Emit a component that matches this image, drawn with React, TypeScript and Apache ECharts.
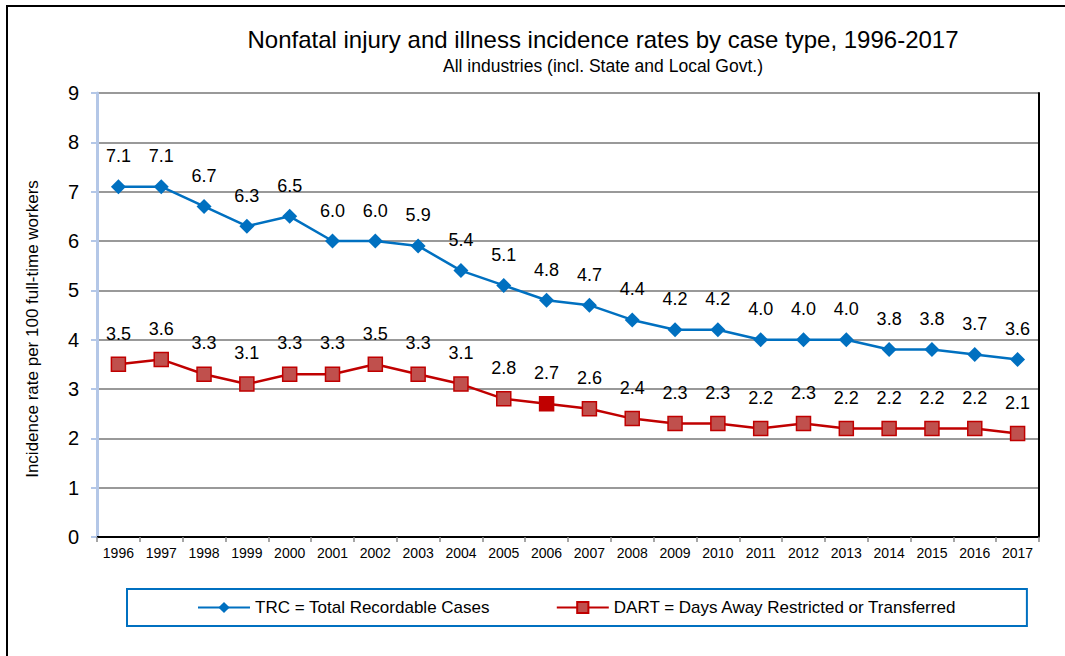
import React, { useEffect, useRef } from "react";
import * as echarts from "echarts";

const years = ["1996","1997","1998","1999","2000","2001","2002","2003","2004","2005","2006","2007","2008","2009","2010","2011","2012","2013","2014","2015","2016","2017"];
const trc = [7.1,7.1,6.7,6.3,6.5,6.0,6.0,5.9,5.4,5.1,4.8,4.7,4.4,4.2,4.2,4.0,4.0,4.0,3.8,3.8,3.7,3.6];
const dart = [3.5,3.6,3.3,3.1,3.3,3.3,3.5,3.3,3.1,2.8,2.7,2.6,2.4,2.3,2.3,2.2,2.3,2.2,2.2,2.2,2.2,2.1];
const seriesNames = ["TRC = Total Recordable Cases", "DART = Days Away Restricted or Transferred"];
const highlightedDartYear = "2006";

const FONT = "'Liberation Sans', Arial, sans-serif";
const BLUE = "#0070c0";
const RED = "#c00000";
const RED_FILL = "#c0504d";

export default function App() {
  const ref = useRef<HTMLDivElement>(null);
  useEffect(() => {
    document.body.style.margin = "0";
    const chart = echarts.init(ref.current!, null, { renderer: "svg" });
    const labelStyle = {
      show: true,
      position: "top" as const,
      distance: 14,
      fontFamily: FONT,
      fontSize: 18,
      color: "#000",
      formatter: (p: any) => Number(p.value).toFixed(1),
    };
    chart.setOption({
      animation: false,
      backgroundColor: "#fff",
      title: {
        text: "Nonfatal injury and illness incidence rates by case type, 1996-2017",
        subtext: "All industries (incl. State and Local Govt.)",
        left: 598,
        textAlign: "center",
        top: 22,
        itemGap: 6,
        textStyle: { fontFamily: FONT, fontSize: 24, fontWeight: "normal", color: "#000" },
        subtextStyle: { fontFamily: FONT, fontSize: 17.5, color: "#000" },
      },
      graphic: [
        { type: "rect", shape: { x: 7, y: 6, width: 1100, height: 700 }, style: { fill: "none", stroke: "#000", lineWidth: 2 }, silent: true },
      ],
      legend: {
        left: 127,
        top: 589,
        padding: [10, 70, 10, 70],
        borderColor: BLUE,
        borderWidth: 2,
        itemGap: 66,
        itemWidth: 52,
        itemHeight: 14,
        textStyle: { fontFamily: FONT, fontSize: 17, color: "#000" },
        data: seriesNames,
      },
      grid: { left: 97, right: 26, top: 93, bottom: 119, containLabel: false },
      xAxis: [
        {
          type: "category",
          data: years,
          boundaryGap: true,
          axisLine: { lineStyle: { color: "#888", width: 2 } },
          axisTick: { show: true, length: 5, lineStyle: { color: "#888", width: 1.5 } },
          axisLabel: { fontFamily: FONT, fontSize: 14, color: "#000", margin: 9, interval: 0 },
        },
        {
          type: "category",
          data: years,
          position: "top",
          axisLine: { lineStyle: { color: "#000", width: 2 } },
          axisTick: { show: false },
          axisLabel: { show: false },
        },
      ],
      yAxis: [
        {
          type: "value",
          min: 0,
          max: 9,
          interval: 1,
          name: "Incidence rate per 100 full-time workers",
          nameLocation: "middle",
          nameGap: 56,
          nameTextStyle: { fontFamily: FONT, fontSize: 17, color: "#000", padding: [0, 28, 0, 0] },
          axisLine: { show: true, lineStyle: { color: "#b4c7e7", width: 3 } },
          axisTick: { show: true, length: 6, lineStyle: { color: "#b4c7e7", width: 2 } },
          axisLabel: { fontFamily: FONT, fontSize: 20, color: "#000", margin: 18 },
          splitLine: { lineStyle: { color: "#999", width: 2 } },
        },
        {
          type: "value",
          min: 0,
          max: 9,
          interval: 1,
          position: "right",
          axisLine: { show: true, lineStyle: { color: "#000", width: 2 } },
          axisTick: { show: false },
          axisLabel: { show: false },
          splitLine: { show: false },
        },
      ],
      series: [
        {
          name: seriesNames[0],
          type: "line",
          data: trc,
          symbol: "diamond",
          symbolSize: 15,
          lineStyle: { color: BLUE, width: 2.5 },
          itemStyle: { color: BLUE },
          label: labelStyle,
        },
        {
          name: seriesNames[1],
          type: "line",
          data: dart.map((v, i) => (years[i] === highlightedDartYear ? { value: v, itemStyle: { color: RED } } : v)),
          symbol: "rect",
          symbolSize: 14,
          lineStyle: { color: RED, width: 2.5 },
          itemStyle: { color: RED_FILL, borderColor: RED, borderWidth: 1.5 },
          label: labelStyle,
        },
      ],
    });
    return () => chart.dispose();
  }, []);
  return <div ref={ref} style={{ width: 1065, height: 656 }} />;
}
